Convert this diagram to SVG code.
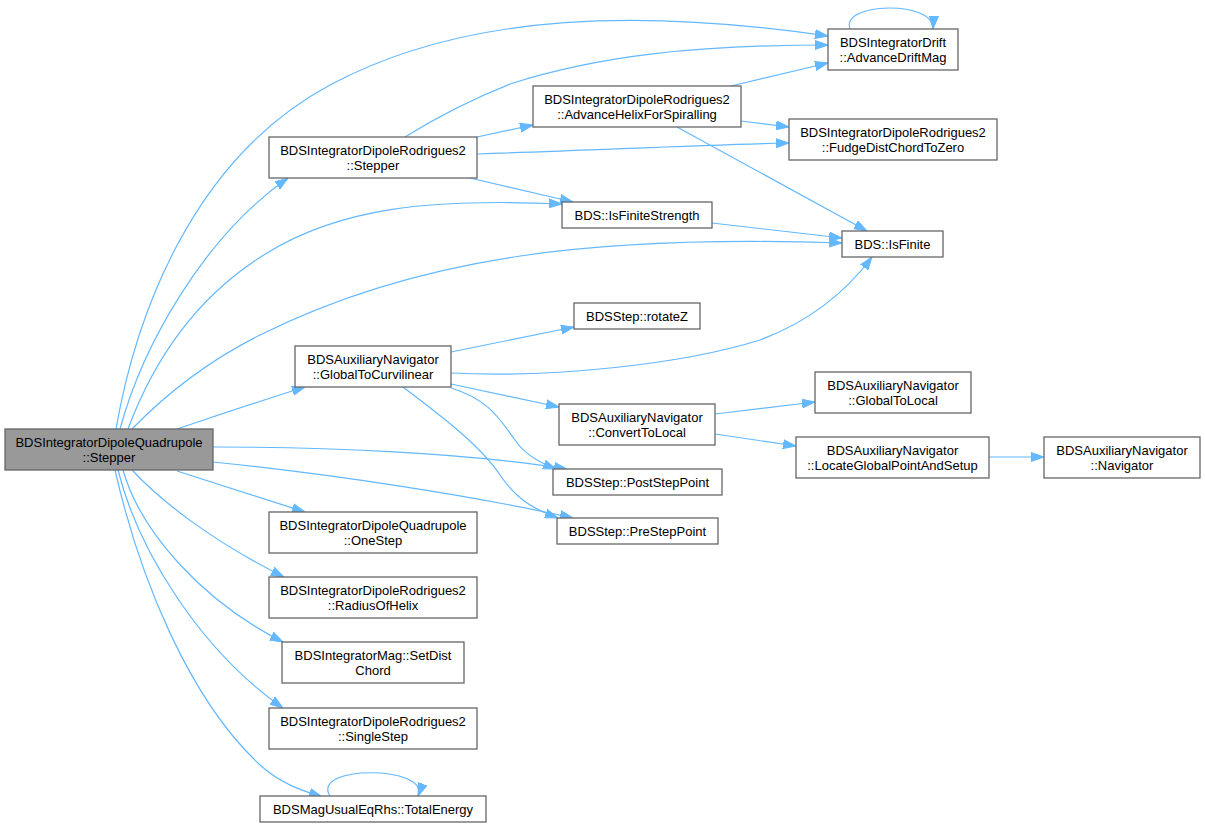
<svg xmlns="http://www.w3.org/2000/svg" width="1205" height="828" viewBox="0 0 1205 828">
<defs>
<style>
.n rect{fill:#ffffff;stroke:#666666;stroke-width:1.3}
.n.hl rect{fill:#999999}
.n text{font-family:"Liberation Sans",Arial,sans-serif;font-size:13px;fill:#000000;text-anchor:middle}
.e path{fill:none;stroke:#63b8ff;stroke-width:1.2;marker-end:url(#ah)}
</style>
<marker id="ah" markerWidth="13" markerHeight="10" refX="13" refY="5" orient="auto" markerUnits="userSpaceOnUse">
<path d="M0,0.5 L13,5 L0,9.5 z" fill="#63b8ff" stroke="#63b8ff" stroke-width="1"/>
</marker>
</defs>
<rect x="0" y="0" width="1205" height="828" fill="#ffffff"/>
<g id="edges" class="e">
<path d="M116,429 C135,320 190,160 330,85 C470,10 650,10 828,36"/>
<path d="M120,429 C142,348 202,238 288,178"/>
<path d="M128,429 C150,370 190,300 267,253 C340,208 430,198 562,204"/>
<path d="M132,429 C170,390 210,360 260,335 C420,255 600,235 842,243"/>
<path d="M177,429 C210,418 260,401 305,387"/>
<path d="M213,447 C320,447 460,452 567,469"/>
<path d="M213,462 C330,474 470,495 573,518"/>
<path d="M177,471 C215,483 260,498 305,512"/>
<path d="M132,470 C160,500 210,540 284,577"/>
<path d="M123,470 C140,530 200,600 283,642"/>
<path d="M118,470 C138,550 200,650 283,708"/>
<path d="M115,470 C140,580 190,700 260,765 C280,783 300,790 322,797"/>
<path d="M405,137 C440,115 470,100 510,84 C600,55 700,45 828,45"/>
<path d="M477,137 L533,125"/>
<path d="M477,154 C600,150 700,145 789,143"/>
<path d="M470,178 L573,202"/>
<path d="M731,86 L828,63"/>
<path d="M741,121 L789,127"/>
<path d="M677,127 L867,231"/>
<path d="M850,29 C840,2 935,0 933,29"/>
<path d="M712,223 L842,238"/>
<path d="M451,352 L574,327"/>
<path d="M451,373 C550,378 680,365 760,340 C800,325 840,300 872,257"/>
<path d="M451,384 L559,407"/>
<path d="M451,388 C490,400 500,420 515,440 C525,455 540,463 556,469"/>
<path d="M403,387 C440,415 480,445 500,475 C515,497 530,508 558,518"/>
<path d="M715,414 L815,402"/>
<path d="M715,434 L796,446"/>
<path d="M989,457 L1044,457"/>
<path d="M330,796 C310,765 430,765 418,796"/>
</g>
<g id="node-q" class="n hl"><rect x="5" y="429" width="208" height="41"/><text x="109" y="447">BDSIntegratorDipoleQuadrupole</text><text x="109" y="462">::Stepper</text></g>
<g id="node-r2s" class="n"><rect x="269" y="137" width="208" height="41"/><text x="373" y="155">BDSIntegratorDipoleRodrigues2</text><text x="373" y="170">::Stepper</text></g>
<g id="node-adm" class="n"><rect x="828" y="29" width="130" height="41"/><text x="893" y="47">BDSIntegratorDrift</text><text x="893" y="62">::AdvanceDriftMag</text></g>
<g id="node-ah" class="n"><rect x="533" y="86" width="208" height="41"/><text x="637" y="104">BDSIntegratorDipoleRodrigues2</text><text x="637" y="119">::AdvanceHelixForSpiralling</text></g>
<g id="node-fdc" class="n"><rect x="789" y="119" width="208" height="41"/><text x="893" y="137">BDSIntegratorDipoleRodrigues2</text><text x="893" y="152">::FudgeDistChordToZero</text></g>
<g id="node-ifs" class="n"><rect x="562" y="202" width="150" height="26"/><text x="637" y="220">BDS::IsFiniteStrength</text></g>
<g id="node-if" class="n"><rect x="842" y="231" width="101" height="26"/><text x="892.5" y="249">BDS::IsFinite</text></g>
<g id="node-rz" class="n"><rect x="574" y="303" width="126" height="26"/><text x="637" y="321">BDSStep::rotateZ</text></g>
<g id="node-g" class="n"><rect x="295" y="346" width="156" height="41"/><text x="373" y="364">BDSAuxiliaryNavigator</text><text x="373" y="379">::GlobalToCurvilinear</text></g>
<g id="node-gtl" class="n"><rect x="815" y="372" width="156" height="41"/><text x="893" y="390">BDSAuxiliaryNavigator</text><text x="893" y="405">::GlobalToLocal</text></g>
<g id="node-c" class="n"><rect x="559" y="404" width="156" height="41"/><text x="637" y="422">BDSAuxiliaryNavigator</text><text x="637" y="437">::ConvertToLocal</text></g>
<g id="node-lgp" class="n"><rect x="796" y="437" width="193" height="41"/><text x="892.5" y="455">BDSAuxiliaryNavigator</text><text x="892.5" y="470">::LocateGlobalPointAndSetup</text></g>
<g id="node-nav" class="n"><rect x="1044" y="437" width="156" height="41"/><text x="1122" y="455">BDSAuxiliaryNavigator</text><text x="1122" y="470">::Navigator</text></g>
<g id="node-post" class="n"><rect x="553" y="469" width="169" height="26"/><text x="637.5" y="487">BDSStep::PostStepPoint</text></g>
<g id="node-pre" class="n"><rect x="557" y="518" width="161" height="26"/><text x="637.5" y="536">BDSStep::PreStepPoint</text></g>
<g id="node-os" class="n"><rect x="269" y="512" width="208" height="41"/><text x="373" y="530">BDSIntegratorDipoleQuadrupole</text><text x="373" y="545">::OneStep</text></g>
<g id="node-roh" class="n"><rect x="269" y="577" width="208" height="41"/><text x="373" y="595">BDSIntegratorDipoleRodrigues2</text><text x="373" y="610">::RadiusOfHelix</text></g>
<g id="node-sdc" class="n"><rect x="282" y="642" width="182" height="41"/><text x="373" y="660">BDSIntegratorMag::SetDist</text><text x="373" y="675">Chord</text></g>
<g id="node-ss" class="n"><rect x="269" y="708" width="208" height="41"/><text x="373" y="726">BDSIntegratorDipoleRodrigues2</text><text x="373" y="741">::SingleStep</text></g>
<g id="node-te" class="n"><rect x="260" y="796" width="226" height="26"/><text x="373" y="814">BDSMagUsualEqRhs::TotalEnergy</text></g>
</svg>
